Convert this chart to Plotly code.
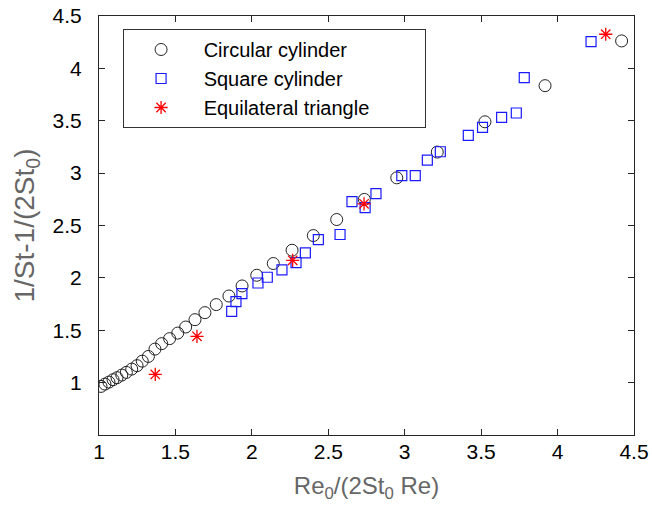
import plotly.graph_objects as go

circ_x = [1.013, 1.039, 1.065, 1.092, 1.118, 1.149, 1.179, 1.214, 1.249, 1.283,
          1.323, 1.366, 1.410, 1.462, 1.515, 1.567, 1.628, 1.693, 1.767, 1.850,
          1.936, 2.032, 2.140, 2.263, 2.402, 2.555, 2.736, 2.948, 3.213, 3.525,
          3.918, 4.419]
circ_y = [0.964, 0.986, 1.005, 1.028, 1.047, 1.072, 1.098, 1.129, 1.162, 1.205,
          1.250, 1.320, 1.372, 1.420, 1.473, 1.531, 1.601, 1.668, 1.745, 1.827,
          1.923, 2.025, 2.137, 2.264, 2.404, 2.557, 2.749, 2.955, 3.201, 3.490,
          3.835, 4.262]

sq_x = [1.868, 1.896, 1.935, 2.040, 2.101, 2.197, 2.289, 2.350, 2.435, 2.577,
        2.655, 2.741, 2.812, 2.981, 3.069, 3.148, 3.233, 3.416, 3.509, 3.634,
        3.730, 3.782, 4.219]
sq_y = [1.681, 1.773, 1.850, 1.951, 2.006, 2.076, 2.146, 2.238, 2.366, 2.414,
        2.727, 2.670, 2.804, 2.976, 2.976, 3.124, 3.204, 3.361, 3.437, 3.533,
        3.574, 3.911, 4.255]

tri_x = [1.368, 1.641, 2.267, 2.734, 4.315]
tri_y = [1.078, 1.442, 2.168, 2.707, 4.326]

x_ticks = [1, 1.5, 2, 2.5, 3, 3.5, 4, 4.5]
y_ticks = [1, 1.5, 2, 2.5, 3, 3.5, 4, 4.5]

series_names = ["Circular cylinder", "Square cylinder", "Equilateral triangle"]

FONT = "Liberation Sans, Arial, sans-serif"
AX = "#262626"
NB = "\u00a0"

fig = go.Figure()
fig.add_trace(go.Scatter(x=circ_x, y=circ_y, mode="markers", name=NB + series_names[0],
                         marker=dict(symbol="circle-open", size=12, color="#222222",
                                     line=dict(width=1))))
fig.add_trace(go.Scatter(x=sq_x, y=sq_y, mode="markers", name=NB + series_names[1],
                         marker=dict(symbol="square-open", size=10, color="#1a1aff",
                                     line=dict(width=1.2))))
fig.add_trace(go.Scatter(x=tri_x, y=tri_y, mode="markers",
                         name=NB + series_names[2] + NB * 9,
                         marker=dict(symbol="asterisk-open", size=11, color="#ff0000",
                                     line=dict(width=1.3, color="#ff0000"))))

axis_common = dict(showline=True, linecolor=AX, linewidth=1, mirror="ticks",
                   ticks="inside", ticklen=6, tickcolor=AX, tickwidth=1,
                   showgrid=False, zeroline=False, automargin=False,
                   ticklabeloverflow="allow",
                   tickfont=dict(family=FONT, size=21, color="#000000"))

fig.update_layout(
    width=652, height=505,
    margin=dict(l=99, r=18, t=16, b=70),
    paper_bgcolor="white", plot_bgcolor="white",
    font=dict(family=FONT, size=20, color="#000000"),
    xaxis=dict(range=[1, 4.5], tickvals=x_ticks, ticktext=[f"{v:g}" for v in x_ticks],
               title=dict(text="Re<sub>0</sub>/(2St<sub>0</sub> Re)",
                          font=dict(family=FONT, size=24, color="#666666"), standoff=14),
               ticklabelstandoff=-2,
               **axis_common),
    yaxis=dict(range=[0.5, 4.5], tickvals=y_ticks, ticktext=[f"{v:g}" for v in y_ticks],
               title=dict(text="1/St-1/(2St<sub>0</sub>)",
                          font=dict(family=FONT, size=28, color="#666666"), standoff=9),
               ticklabelstandoff=12,
               **axis_common),
    legend=dict(x=0.045, y=0.969, xanchor="left", yanchor="top",
                bordercolor="#333333", borderwidth=1, bgcolor="white",
                font=dict(family=FONT, size=20, color="#000000"),
                itemwidth=64, tracegroupgap=0),
    showlegend=True,
)

fig.write_html("out.html", config={"displayModeBar": False},
               post_script="document.body.style.margin='0';document.body.style.overflow='hidden';")
